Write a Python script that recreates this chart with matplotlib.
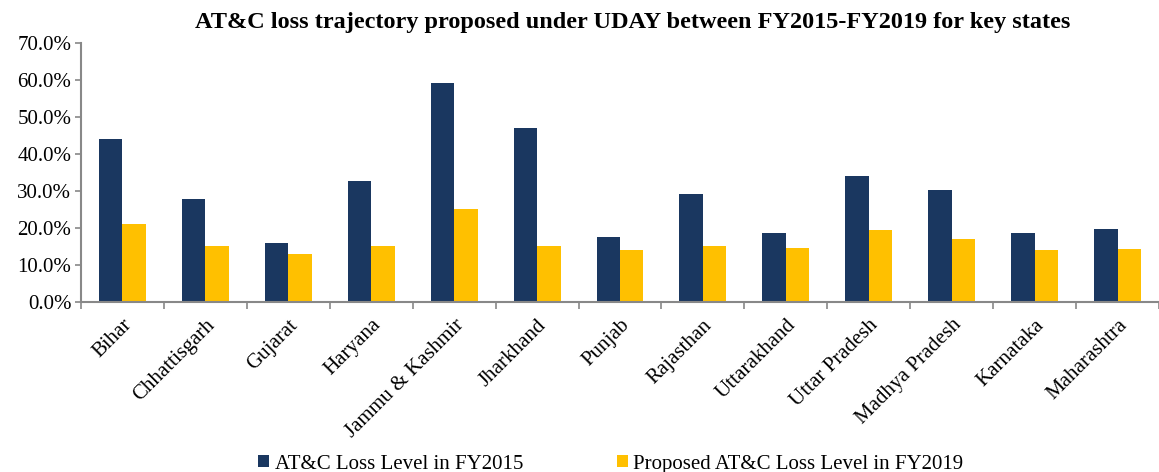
import numpy as np
import matplotlib.pyplot as plt
from matplotlib.ticker import PercentFormatter

states = ["Bihar", "Chhattisgarh", "Gujarat", "Haryana", "Jammu & Kashmir", "Jharkhand",
          "Punjab", "Rajasthan", "Uttarakhand", "Uttar Pradesh", "Madhya Pradesh",
          "Karnataka", "Maharashtra"]
loss_fy2015 = [44.0, 27.7, 16.0, 32.5, 59.1, 47.0, 17.5, 29.2, 18.7, 33.9, 30.2, 18.7, 19.6]
loss_fy2019 = [20.9, 15.0, 12.9, 15.0, 25.0, 15.0, 13.9, 15.0, 14.4, 19.3, 16.9, 14.1, 14.3]

navy = "#1a3760"
gold = "#ffc000"
axis_grey = "#888888"

plt.rcParams["font.family"] = ["Liberation Serif", "DejaVu Serif"]

fig = plt.figure(figsize=(11.59, 4.72), dpi=100)
ax = fig.add_axes([0.0699, 0.3608, 0.9301, 0.5487])

x = np.arange(len(states))
w = 0.283
ax.bar(x - w / 2, loss_fy2015, w, color=navy, label="AT&C Loss Level in FY2015")
ax.bar(x + w / 2, loss_fy2019, w, color=gold, label="Proposed AT&C Loss Level in FY2019")

ax.set_xlim(-0.5, len(states) - 0.5)
ax.set_ylim(0, 70)
ax.set_yticks(np.arange(0, 71, 10))
ax.yaxis.set_major_formatter(PercentFormatter(decimals=1))

ax.set_xticks(x)
ax.set_xticklabels(states, rotation=45, ha="right", rotation_mode="anchor")
ax.set_xticks(np.arange(-0.5, len(states), 1), minor=True)
ax.tick_params(axis="x", which="major", length=0, pad=10, labelsize=15, colors="black")
ax.tick_params(axis="x", which="minor", length=5, width=1.2, color=axis_grey)
ax.tick_params(axis="y", length=4, width=1.2, color=axis_grey, labelsize=15, pad=3)

for side in ["top", "right"]:
    ax.spines[side].set_visible(False)
for side in ["left", "bottom"]:
    ax.spines[side].set_color(axis_grey)
    ax.spines[side].set_linewidth(1.5)

fig.text(0.546, 0.952, "AT&C loss trajectory proposed under UDAY between FY2015-FY2019 for key states",
         ha="center", va="center", fontsize=17.5, fontweight="bold")

fig.legend(loc="lower center", bbox_to_anchor=(0.527, -0.043), ncol=2, frameon=False,
           fontsize=15, handlelength=0.55, handleheight=0.55, handletextpad=0.25,
           columnspacing=4.5)

fig.savefig("out.png", dpi=100)
